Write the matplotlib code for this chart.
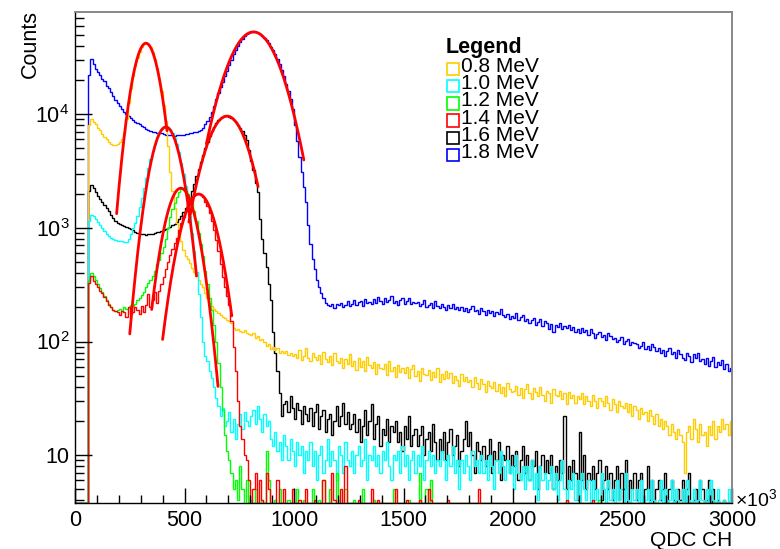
import numpy as np
import matplotlib
matplotlib.use("Agg")
import matplotlib.pyplot as plt
from matplotlib.patches import Rectangle
from matplotlib.ticker import FixedLocator, MultipleLocator, LogLocator, NullFormatter

plt.rcParams['font.family'] = ['Liberation Sans', 'DejaVu Sans']
plt.rcParams['mathtext.fontset'] = 'custom'
plt.rcParams['mathtext.rm'] = 'Liberation Sans'

# ---- histogram binning (QDC channels) ----
BIN_WIDTH = 10
N_BINS = 300

labels = ["0.8 MeV", "1.0 MeV", "1.2 MeV", "1.4 MeV", "1.6 MeV", "1.8 MeV"]
colors = ["#ffcc00", "#00ffff", "#00ff00", "#ff0000", "#000000", "#0000ff"]

counts_08 = [
    0, 0, 0, 0, 0, 0,
    8000, 9000, 8500, 8100, 7600, 7200, 6700, 6300, 6000, 5700,
    5500, 5400, 5300, 5500, 5700, 6000, 6800, 9000, 12500, 16500,
    21500, 26500, 31000, 35500, 39000, 41300, 42200, 41000, 38500, 35000,
    30500, 25500, 20500, 16000, 12000, 8700, 5200, 3100, 2100, 1500,
    1100, 900, 760, 640, 570, 530, 490, 440, 410, 375,
    350, 320, 300, 265, 240, 220, 205, 195, 185, 178,
    172, 165, 160, 156, 150, 146, 132, 126, 129, 124,
    121, 126, 119, 117, 114, 119, 108, 112, 104, 106,
    98, 91, 95, 86, 89, 84, 88, 80, 83, 79,
    82, 76, 79, 74,
    78, 71, 84, 69, 75, 88, 72, 67, 80, 73,
    69, 76, 64, 81, 70, 66, 74, 62, 79, 68,
    65, 72, 58, 70, 63, 77, 61, 68, 56, 71,
    60, 67, 55, 73, 62, 58, 66, 52, 64, 59,
    57, 63, 51, 68, 55, 60, 49, 62, 54, 58,
    53, 60, 48, 57, 62, 50, 55, 45, 59, 52,
    51, 56, 46, 54, 49, 58, 44, 52, 47, 55,
    48, 53, 43, 50, 46, 41, 52, 45, 49, 44,
    46, 40, 49, 43, 38, 47, 42, 36, 45, 41,
    39, 44, 37, 42, 35, 40, 33, 43, 38, 36,
    37, 41, 34, 39, 32, 38, 42, 35, 31, 39,
    36, 33, 40, 34, 30, 37, 35, 29, 38, 34,
    33, 37, 31, 35, 28, 36, 32, 34, 29, 33,
    31, 35, 28, 33, 30, 27, 34, 30, 26, 32,
    30, 27, 33, 29, 25, 31, 28, 24, 30, 27,
    26, 29, 24, 28, 22, 27, 25, 21, 26, 23,
    24, 20, 25, 22, 19, 23, 18, 21, 17, 20,
    18, 15, 19, 16, 14, 17, 15, 13, 7, 16,
    18, 14, 21, 17, 13, 19, 15, 16, 12, 18,
    15, 20, 14, 18, 16, 21, 17, 19, 15, 20,
]

counts_10 = [
    0, 0, 0, 0, 0, 0,
    1150, 1300, 1270, 1200, 1130, 1060, 1000, 940, 890, 850,
    820, 800, 780, 770, 760, 765, 750, 755, 790, 880,
    990, 1110, 1280, 1530, 1830, 2230, 2730, 3340, 4020, 4770,
    5500, 6250, 6900, 7400, 7750, 7850, 7700, 7350, 6850, 6200,
    5450, 4600, 3750, 3000, 2340, 1760, 1280, 905, 620, 410,
    264, 165, 100, 75, 68, 55, 48, 40, 32, 27,
    22, 26, 18, 20, 24, 16, 21, 14, 19, 23,
    17, 24, 20, 18, 22, 25, 19, 27, 21, 16,
    23, 18, 20, 14, 12, 16, 11, 13, 9, 15,
    12, 9, 14, 11, 8, 13, 10, 12, 7, 11,
    9, 13, 8, 11, 6, 10, 12, 7, 9, 14,
    8, 11, 9, 6, 12, 10, 7, 13, 9, 8,
    11, 7, 10, 12, 8, 9, 14, 6, 10, 9,
    12, 8, 10, 7, 11, 9, 13, 8, 6, 10,
    9, 11, 7, 12, 8, 10, 6, 9, 11, 7,
    10, 8, 12, 6, 9, 11, 8, 10, 7, 9,
    8, 11, 9, 6, 10, 8, 12, 7, 9, 5,
    9, 7, 10, 8, 6, 11, 8, 9, 7, 10,
    7, 9, 6, 10, 8, 5, 9, 7, 11, 8,
    6, 9, 7, 8, 5, 10, 7, 6, 8, 5,
    8, 6, 9, 5, 7, 4, 8, 6, 7, 5,
    6, 8, 5, 7, 4, 6, 9, 5, 3, 6,
    5, 7, 4, 6, 3, 7, 5, 4, 6, 2,
    6, 4, 5, 3, 7, 5, 2, 6, 4, 5,
    3, 6, 4, 5, 2, 7, 4, 3, 5, 4,
    5, 3, 6, 2, 4, 5, 3, 6, 4, 2,
    4, 6, 3, 5, 2, 4, 6, 3, 5, 4,
    3, 5, 2, 6, 4, 3, 5, 2, 4, 6,
    4, 2, 5, 3, 6, 4, 2, 5, 3, 2,
    4, 3, 5, 2,
]

counts_12 = [
    0, 0, 0, 0, 0, 0,
    350, 400, 380, 350, 320, 295, 270, 250, 230, 215,
    200, 190, 185, 190, 195, 185, 200, 195, 200, 210,
    205, 215, 230, 240, 255, 270, 300, 330, 350, 380,
    420, 480, 520, 600, 680, 800, 1000, 1250, 1450, 1650,
    1850, 2050, 2200, 2250, 2150, 2000, 1850, 1650, 1400, 1150,
    900, 720, 560, 420, 320, 240, 190, 140, 100, 65,
    40, 25, 15, 11, 9, 7, 5, 6, 4, 8,
    5, 3, 6, 2, 4, 0, 5, 3, 1, 4,
    2, 11, 6, 3, 0, 4, 2, 5, 1, 3,
    0, 4, 2, 0, 3, 5, 1, 0, 4, 2,
    3, 0, 5, 2, 0, 4, 1, 6, 0, 3,
    5, 2, 0, 7, 4, 1, 0, 5, 2, 0,
    0, 4, 1, 0, 2, 5, 0, 1, 3, 0,
    4, 0, 2, 0, 1, 0, 3, 0, 0, 5,
    0, 2, 0, 1, 0, 0, 4, 0, 2, 0,
    0, 7, 1, 0, 5, 0, 6, 0, 2, 0,
    0, 1, 0, 0, 3, 0, 0, 2, 0, 0,
    1, 0, 0, 2, 0, 0, 1, 0, 0, 0,
    0, 0, 1, 0, 0, 0, 0, 2, 0, 0,
    0, 1, 0, 0, 0, 0, 0, 0, 1, 0,
    0, 0, 0, 1, 0, 0, 0, 0, 0, 0,
    0, 0, 0, 0, 0, 1, 0, 0, 0, 0,
    0, 0, 0, 0, 0, 0, 0, 1, 0, 0,
    0, 0, 0, 4, 0, 0, 0, 0, 0, 0,
    0, 0, 0, 0, 0, 0, 0, 0, 0, 0,
    0, 0, 0, 0, 0, 0, 0, 0, 0, 0,
    0, 0, 0, 0, 0, 0, 0, 0, 0, 0,
    0, 0, 0, 0, 0, 0, 0, 0, 0, 0,
    0, 0, 0, 0, 0, 0, 0, 0, 0, 0,
    0, 0, 0, 0,
]

counts_14 = [
    0, 0, 0, 0, 0, 0,
    330, 380, 340, 320, 300, 280, 265, 245, 225, 210,
    200, 190, 185, 180, 170, 185, 180, 165, 200, 175,
    180, 200, 190, 175, 205, 180, 210, 260, 200, 230,
    270, 220, 280, 320, 370, 430, 500, 580, 650, 730,
    820, 950, 1100, 1250, 1400, 1550, 1700, 1850, 1950, 2000,
    2000, 1950, 1850, 1700, 1550, 1350, 1150, 950, 780, 620,
    480, 370, 300, 250, 210, 150, 90, 55, 30, 18,
    14, 10, 9, 6, 0, 5, 7, 0, 6, 4,
    0, 7, 5, 0, 3, 0, 6, 0, 2, 5,
    0, 3, 0, 5, 0, 1, 4, 0, 0, 5,
    0, 2, 0, 4, 0, 0, 3, 6, 0, 0,
    2, 7, 4, 0, 0, 5, 0, 8, 0, 0,
    3, 0, 0, 4, 0, 0, 1, 0, 0, 5,
    0, 0, 4, 0, 0, 0, 2, 0, 0, 0,
    5, 0, 0, 0, 0, 4, 0, 0, 0, 0,
    0, 4, 0, 0, 0, 5, 4, 0, 0, 0,
    0, 0, 0, 0, 4, 0, 0, 0, 0, 0,
    0, 0, 0, 0, 0, 0, 0, 0, 5, 0,
    0, 0, 0, 0, 0, 0, 0, 0, 0, 0,
    0, 0, 0, 0, 0, 0, 0, 0, 0, 0,
    0, 0, 0, 0, 0, 0, 0, 0, 0, 0,
    0, 0, 0, 0, 0, 0, 0, 0, 4, 0,
    0, 0, 0, 0, 0, 0, 0, 0, 0, 0,
    4, 0, 0, 0, 0, 0, 0, 0, 0, 0,
    0, 0, 0, 0, 0, 0, 0, 0, 0, 0,
    0, 0, 0, 0, 0, 0, 0, 0, 0, 0,
    0, 0, 0, 0, 0, 0, 0, 0, 0, 0,
    0, 0, 0, 0, 0, 0, 0, 0, 0, 0,
    0, 0, 0, 0, 0, 0, 0, 0, 0, 0,
    0, 0, 0, 0,
]

counts_16 = [
    0, 0, 0, 0, 0, 0,
    2100, 2400, 2250, 2050, 1900, 1800, 1700, 1600, 1500, 1400,
    1300, 1220, 1150, 1100, 1080, 1060, 1040, 1020, 1000, 980,
    950, 920, 900, 890, 880, 880, 870, 880, 890, 880,
    900, 910, 920, 930, 950, 980, 1000, 1020, 1050, 1090,
    1130, 1200, 1280, 1380, 1500, 1650, 1850, 2100, 2450, 2850,
    3300, 3800, 4400, 5000, 5700, 6400, 7100, 7700, 8300, 8800,
    9200, 9500, 9650, 9600, 9450, 9200, 8900, 8500, 8000, 7600,
    7100, 6500, 5900, 4800, 3900, 3200, 2500, 2050, 1200, 800,
    600, 450, 320, 230, 120, 80, 55, 35, 22, 28,
    30, 24, 33, 26, 21, 29, 25, 19, 27, 23,
    20, 26, 18, 24, 28, 17, 22, 25, 16, 21,
    23, 15, 20, 27, 18, 22, 29, 19, 24, 17,
    19, 23, 16, 21, 13, 18, 25, 15, 20, 28,
    14, 19, 22, 12, 17, 15, 21, 13, 18, 16,
    20, 13, 16, 11, 18, 14, 22, 12, 15, 17,
    12, 15, 18, 10, 14, 16, 11, 19, 13, 9,
    14, 11, 16, 9, 13, 17, 10, 12, 15, 8,
    11, 14, 20, 12, 16, 10, 7, 13, 11, 9,
    12, 8, 10, 14, 7, 11, 9, 13, 6, 10,
    9, 12, 7, 10, 8, 11, 6, 9, 12, 7,
    10, 6, 9, 8, 11, 5, 8, 10, 7, 9,
    7, 10, 5, 8, 6, 9, 7, 22, 5, 8,
    6, 9, 7, 4, 16, 6, 10, 5, 7, 6,
    8, 5, 7, 9, 4, 6, 8, 5, 7, 4,
    6, 8, 4, 7, 5, 9, 3, 6, 5, 7,
    4, 6, 7, 3, 5, 8, 4, 6, 3, 5,
    6, 4, 5, 7, 3, 5, 6, 4, 2, 5,
    4, 6, 3, 5, 7, 2, 4, 5, 3, 6,
    5, 3, 4, 6, 2, 5, 3, 4, 2, 3,
    4, 2, 3, 4,
]

counts_18 = [
    0, 0, 0, 0, 0, 0,
    22000, 30500, 27500, 25000, 23500, 22000, 20500, 19500, 17800, 16800,
    15500, 14300, 13300, 12400, 11700, 11000, 10500, 10100, 9600, 9200,
    8900, 8600, 8400, 8100, 7900, 7700, 7400, 7200, 7100, 7000,
    6900, 6800, 6800, 6750, 6700, 6600, 6550, 6500, 6500, 6450,
    6500, 6500, 6550, 6600, 6650, 6700, 6800, 6850, 6950, 7000,
    7100, 7300, 7600, 8100, 8700, 9400, 10500, 11800, 13500, 15300,
    17200, 19000, 21500, 24000, 27000, 30000, 33500, 36500, 40000, 43000,
    46000, 48500, 50500, 51800, 52800, 53000, 52500, 51800, 50500, 48500,
    46500, 44500, 42000, 39000, 36500, 33500, 30500, 27500, 24500, 21500,
    18500, 16000, 13500, 11000, 8000, 5800, 4200, 3100, 2300, 1700,
    1050, 720, 530, 430, 350, 300, 265, 240, 220, 210,
    205, 212, 198, 215, 208, 220, 203, 211, 225, 206,
    214, 232, 209, 221, 228, 204, 236, 217, 223, 212,
    238, 219, 246, 227, 214, 241, 223, 231, 252, 218,
    229, 209, 233, 243, 215, 226, 239, 212, 224, 218,
    221, 205, 214, 230, 203, 210, 219, 198, 225, 207,
    196, 212, 203, 189, 208, 199, 215, 194, 202, 188,
    200, 185, 196, 181, 193, 205, 184, 190, 176, 198,
    186, 171, 190, 178, 184, 168, 181, 175, 192, 170,
    165, 173, 158, 168, 160, 177, 155, 163, 170, 152,
    158, 146, 153, 162, 140, 149, 157, 136, 150, 145,
    130, 143, 122, 140, 135, 146, 128, 138, 132, 141,
    125, 133, 120, 128, 118, 131, 122, 126, 114, 129,
    119, 108, 117, 122, 110, 115, 104, 118, 112, 106,
    108, 99, 103, 110, 96, 101, 106, 94, 100, 97,
    96, 88, 92, 99, 86, 91, 84, 95, 89, 82,
    87, 79, 85, 74, 83, 88, 77, 81, 71, 84,
    78, 72, 69, 80, 74, 66, 77, 71, 79, 68,
    70, 64, 72, 61, 67, 73, 60, 66, 62, 69,
    57, 63, 55, 58,
]

# Gaussian fit results for each full-energy peak: amplitude, mean, sigma, fit range
fit_amp = [42000, 7700, 2230, 1980, 9600, 52800]
fit_mean = [324, 415, 483, 565, 694, 815]
fit_sigma = [51, 57, 60, 68, 84, 101]
fit_lo = [190, 250, 350, 400, 520, 600]
fit_hi = [420, 555, 653, 716, 836, 1045]

series = [counts_08, counts_10, counts_12, counts_14, counts_16, counts_18]
draw_order = [5, 4, 0, 1, 2, 3]

Y_MIN, Y_MAX = 3.8, 79000
X_MIN, X_MAX = 0, 3000

W, H = 780, 549
fig = plt.figure(figsize=(W / 100, H / 100), dpi=100)
ax = fig.add_axes([75 / W, 1 - 503 / H, 657 / W, 491 / H])

edges = np.arange(N_BINS + 1) * BIN_WIDTH
for i in draw_order:
    vals = np.asarray(series[i], dtype=float)
    shown = np.maximum(vals, Y_MIN)   # empty bins sit on the frame floor
    ax.stairs(shown, edges, baseline=Y_MIN, color=colors[i], lw=1.0)

for a, m, s, lo, hi in zip(fit_amp, fit_mean, fit_sigma, fit_lo, fit_hi):
    xx = np.linspace(lo, hi, 300)
    ax.plot(xx, a * np.exp(-0.5 * ((xx - m) / s) ** 2), color="#ff0000", lw=2.0,
            solid_capstyle="round")

ax.set_yscale("log")
ax.set_xlim(X_MIN, X_MAX)
ax.set_ylim(Y_MIN, Y_MAX)

# axis ticks
xt = [0, 500, 1000, 1500, 2000, 2500, 3000]
ax.xaxis.set_major_locator(FixedLocator(xt))
ax.set_xticklabels([str(v) for v in xt])
ax.xaxis.set_minor_locator(MultipleLocator(100))
ax.yaxis.set_major_locator(FixedLocator([10, 100, 1000, 10000]))
ax.set_yticklabels(["10", r"$\mathregular{10^{2}}$", r"$\mathregular{10^{3}}$",
                    r"$\mathregular{10^{4}}$"])
ax.yaxis.set_minor_locator(LogLocator(base=10, subs=np.arange(2, 10)))
ax.yaxis.set_minor_formatter(NullFormatter())

ax.tick_params(axis="x", which="major", direction="in", length=11, width=1,
               labelsize=15.5, pad=5, top=False)
ax.tick_params(axis="x", which="minor", direction="in", length=6, width=1, top=False)
ax.tick_params(axis="y", which="major", direction="in", length=12, width=1,
               labelsize=15.5, pad=4, right=False)
ax.tick_params(axis="y", which="minor", direction="in", length=6.5, width=1, right=False)

for side in ("left", "bottom"):
    ax.spines[side].set_color("#000000")
    ax.spines[side].set_linewidth(1.0)
for side in ("top", "right"):
    ax.spines[side].set_color("#888888")
    ax.spines[side].set_linewidth(1.4)

# axis titles
fig.text(30 / W, 1 - 10 / H, "Counts", rotation=90, ha="center", va="top", fontsize=15.5)
fig.text(732 / W, 1 - 545.5 / H, "QDC CH", ha="right", va="baseline", fontsize=15)
fig.text(735 / W, 1 - 506 / H, r"×$\mathregular{10^{3}}$", ha="left", va="baseline",
         fontsize=14)

# legend
fig.text(446 / W, 1 - 53 / H, "Legend", ha="left", va="baseline", fontsize=15.5,
         fontweight="bold")
for k, (lab, col) in enumerate(zip(labels, colors)):
    base = 71.7 + 17.3 * k
    cy = base - 3.0
    fig.patches.append(Rectangle(((447) / W, 1 - (cy + 6.3) / H), 12.5 / W, 12.5 / H,
                                 transform=fig.transFigure, fill=False,
                                 edgecolor=col, lw=1.2))
    fig.text(461 / W, 1 - base / H, lab, ha="left", va="baseline", fontsize=15)

fig.savefig("out.png", dpi=100)
